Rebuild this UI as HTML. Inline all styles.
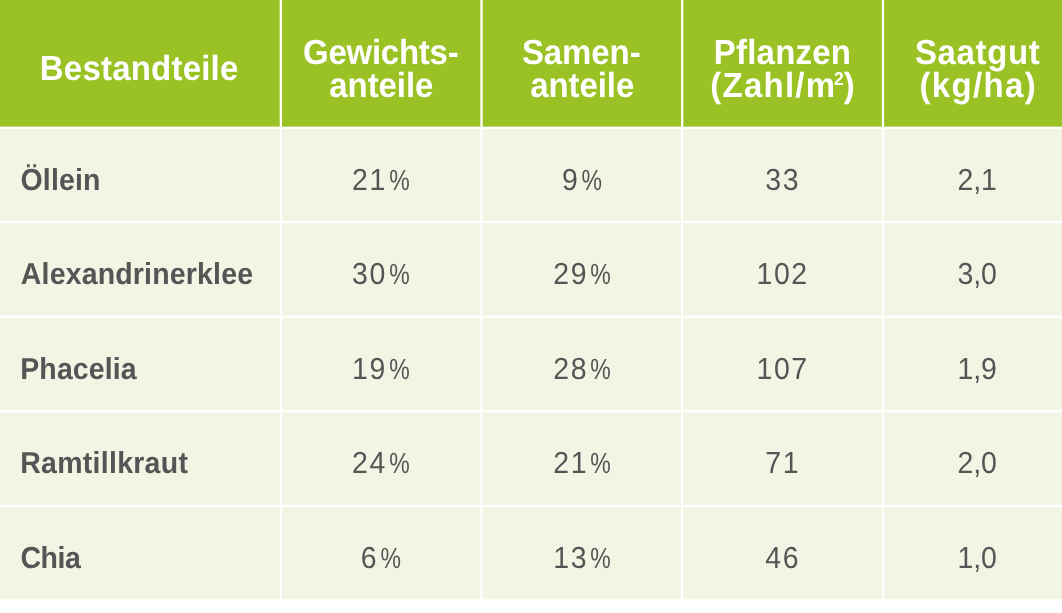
<!DOCTYPE html>
<html lang="de"><head><meta charset="utf-8"><title>Tabelle</title>
<style>
html,body{margin:0;padding:0;background:#fff;}
body{width:1062px;height:613px;overflow:hidden;position:relative;filter:contrast(1);font-family:"Liberation Sans",sans-serif;}
.c{position:absolute;overflow:visible;}
.bgh{position:absolute;left:0;top:0;width:1062px;height:128px;background:#9bc224;}
.bgb{position:absolute;left:0;top:128px;width:1062px;height:473px;background:#f1f5e4;}
svg.g{position:absolute;left:0;top:0;}
.c span{position:absolute;left:0;top:0;white-space:nowrap;transform-origin:0 0;text-rendering:geometricPrecision;}
.h{color:#fff;font-weight:bold;font-size:34.9px;line-height:38.9px;}
.l{color:#555555;font-weight:bold;font-size:30.3px;line-height:34.3px;}
.v{color:#555555;font-size:30.5px;line-height:34.5px;}
.pc{color:#555555;font-size:29.2px;line-height:33.2px;}
sup{font-size:18.5px;vertical-align:baseline;position:relative;top:-12.2px;line-height:0;letter-spacing:0;margin-left:-2.4px;}
i.b{display:inline-block;width:0;height:0;}
</style></head><body>
<div class="bgh"></div><div class="bgb"></div>
<svg class="g" width="1062" height="613" viewBox="0 0 1062 613" fill="#fff"><rect x="279.70" y="0" width="2.3" height="599.15"/><rect x="480.35" y="0" width="2.3" height="599.15"/><rect x="681.05" y="0" width="2.3" height="599.15"/><rect x="881.80" y="0" width="2.3" height="599.15"/><rect x="0" y="126.65" width="1062" height="2.3"/><rect x="0" y="221.15" width="1062" height="2.3"/><rect x="0" y="315.65" width="1062" height="2.3"/><rect x="0" y="410.15" width="1062" height="2.3"/><rect x="0" y="504.65" width="1062" height="2.3"/><rect x="0" y="599.15" width="1062" height="13.85"/></svg>
<div class="c hc" style="left:0.00px;top:0.00px;width:279.70px;height:126.65px"><span class="h" style="transform:translate(39.82px,50.00px) scaleX(0.9450);letter-spacing:0.233px;">Bestandteile</span></div>
<div class="c hc" style="left:282.00px;top:0.00px;width:198.35px;height:126.65px"><span class="h" style="transform:translate(21.06px,33.60px) scaleX(0.9450);letter-spacing:-0.260px;">Gewichts-</span><span class="h" style="transform:translate(47.30px,66.60px) scaleX(0.9450);letter-spacing:-0.077px;">anteile</span></div>
<div class="c hc" style="left:482.65px;top:0.00px;width:198.40px;height:126.65px"><span class="h" style="transform:translate(38.95px,33.60px) scaleX(0.9450);letter-spacing:-0.086px;">Samen-</span><span class="h" style="transform:translate(47.27px,66.60px) scaleX(0.9450);letter-spacing:-0.084px;">anteile</span></div>
<div class="c hc" style="left:683.35px;top:0.00px;width:198.45px;height:126.65px"><span class="h" style="transform:translate(30.72px,33.60px) scaleX(0.9450);letter-spacing:0.257px;">Pflanzen</span><span class="h" style="transform:translate(27.31px,66.60px) scaleX(0.9450);letter-spacing:1.328px;">(Zahl/m<sup>2</sup>)</span></div>
<div class="c hc" style="left:884.10px;top:0.00px;width:177.90px;height:126.65px"><span class="h" style="transform:translate(30.98px,33.60px) scaleX(0.9450);letter-spacing:0.672px;">Saatgut</span><span class="h" style="transform:translate(35.43px,66.60px) scaleX(0.9450);letter-spacing:1.464px;">(kg/ha)</span></div>
<div class="c bc" style="left:0.00px;top:128.95px;width:279.70px;height:92.20px"><span class="l" style="transform:translate(20.58px,34.86px) scaleX(0.9400);letter-spacing:0.134px;">Öllein</span></div>
<div class="c bc" style="left:282.00px;top:128.95px;width:198.35px;height:92.20px"><span class="v" style="transform:translate(70.10px,33.86px) scaleX(0.9340);letter-spacing:1.670px;">21</span> <span class="pc" style="transform:translate(107.20px,35.77px) scaleX(0.7900);">%</span></div>
<div class="c bc" style="left:482.65px;top:128.95px;width:198.40px;height:92.20px"><span class="v" style="transform:translate(78.95px,33.86px) scaleX(0.9340);">9</span> <span class="pc" style="transform:translate(98.45px,35.77px) scaleX(0.7900);">%</span></div>
<div class="c bc" style="left:683.35px;top:128.95px;width:198.45px;height:92.20px"><span class="v" style="transform:translate(82.25px,33.86px) scaleX(0.9340);letter-spacing:1.670px;">33</span></div>
<div class="c bc" style="left:884.10px;top:128.95px;width:177.90px;height:92.20px"><span class="v" style="transform:translate(73.50px,33.86px) scaleX(0.9340);letter-spacing:-0.150px;">2,1</span></div>
<div class="c bc" style="left:0.00px;top:223.45px;width:279.70px;height:92.20px"><span class="l" style="transform:translate(20.79px,34.87px) scaleX(0.9400);letter-spacing:0.193px;">Alexandrinerklee</span></div>
<div class="c bc" style="left:282.00px;top:223.45px;width:198.35px;height:92.20px"><span class="v" style="transform:translate(70.10px,33.87px) scaleX(0.9340);letter-spacing:1.670px;">30</span> <span class="pc" style="transform:translate(107.20px,35.76px) scaleX(0.7900);">%</span></div>
<div class="c bc" style="left:482.65px;top:223.45px;width:198.40px;height:92.20px"><span class="v" style="transform:translate(70.25px,33.87px) scaleX(0.9340);letter-spacing:1.670px;">29</span> <span class="pc" style="transform:translate(107.15px,35.76px) scaleX(0.7900);">%</span></div>
<div class="c bc" style="left:683.35px;top:223.45px;width:198.45px;height:92.20px"><span class="v" style="transform:translate(73.55px,33.87px) scaleX(0.9340);letter-spacing:1.670px;">102</span></div>
<div class="c bc" style="left:884.10px;top:223.45px;width:177.90px;height:92.20px"><span class="v" style="transform:translate(73.50px,33.87px) scaleX(0.9340);letter-spacing:-0.150px;">3,0</span></div>
<div class="c bc" style="left:0.00px;top:317.95px;width:279.70px;height:92.20px"><span class="l" style="transform:translate(20.27px,34.87px) scaleX(0.9400);letter-spacing:0.116px;">Phacelia</span></div>
<div class="c bc" style="left:282.00px;top:317.95px;width:198.35px;height:92.20px"><span class="v" style="transform:translate(70.10px,33.87px) scaleX(0.9340);letter-spacing:1.670px;">19</span> <span class="pc" style="transform:translate(107.20px,35.76px) scaleX(0.7900);">%</span></div>
<div class="c bc" style="left:482.65px;top:317.95px;width:198.40px;height:92.20px"><span class="v" style="transform:translate(70.25px,33.87px) scaleX(0.9340);letter-spacing:1.670px;">28</span> <span class="pc" style="transform:translate(107.15px,35.76px) scaleX(0.7900);">%</span></div>
<div class="c bc" style="left:683.35px;top:317.95px;width:198.45px;height:92.20px"><span class="v" style="transform:translate(73.55px,33.87px) scaleX(0.9340);letter-spacing:1.670px;">107</span></div>
<div class="c bc" style="left:884.10px;top:317.95px;width:177.90px;height:92.20px"><span class="v" style="transform:translate(73.50px,33.87px) scaleX(0.9340);letter-spacing:-0.150px;">1,9</span></div>
<div class="c bc" style="left:0.00px;top:412.45px;width:279.70px;height:92.20px"><span class="l" style="transform:translate(20.27px,34.87px) scaleX(0.9400);letter-spacing:0.291px;">Ramtillkraut</span></div>
<div class="c bc" style="left:282.00px;top:412.45px;width:198.35px;height:92.20px"><span class="v" style="transform:translate(70.10px,33.87px) scaleX(0.9340);letter-spacing:1.670px;">24</span> <span class="pc" style="transform:translate(107.20px,35.76px) scaleX(0.7900);">%</span></div>
<div class="c bc" style="left:482.65px;top:412.45px;width:198.40px;height:92.20px"><span class="v" style="transform:translate(70.25px,33.87px) scaleX(0.9340);letter-spacing:1.670px;">21</span> <span class="pc" style="transform:translate(107.15px,35.76px) scaleX(0.7900);">%</span></div>
<div class="c bc" style="left:683.35px;top:412.45px;width:198.45px;height:92.20px"><span class="v" style="transform:translate(82.25px,33.87px) scaleX(0.9340);letter-spacing:1.670px;">71</span></div>
<div class="c bc" style="left:884.10px;top:412.45px;width:177.90px;height:92.20px"><span class="v" style="transform:translate(73.50px,33.87px) scaleX(0.9340);letter-spacing:-0.150px;">2,0</span></div>
<div class="c bc" style="left:0.00px;top:506.95px;width:279.70px;height:92.20px"><span class="l" style="transform:translate(20.38px,34.87px) scaleX(0.9400);letter-spacing:-0.434px;">Chia</span></div>
<div class="c bc" style="left:282.00px;top:506.95px;width:198.35px;height:92.20px"><span class="v" style="transform:translate(78.80px,33.87px) scaleX(0.9340);">6</span> <span class="pc" style="transform:translate(98.50px,35.76px) scaleX(0.7900);">%</span></div>
<div class="c bc" style="left:482.65px;top:506.95px;width:198.40px;height:92.20px"><span class="v" style="transform:translate(70.25px,33.87px) scaleX(0.9340);letter-spacing:1.670px;">13</span> <span class="pc" style="transform:translate(107.15px,35.76px) scaleX(0.7900);">%</span></div>
<div class="c bc" style="left:683.35px;top:506.95px;width:198.45px;height:92.20px"><span class="v" style="transform:translate(82.25px,33.87px) scaleX(0.9340);letter-spacing:1.670px;">46</span></div>
<div class="c bc" style="left:884.10px;top:506.95px;width:177.90px;height:92.20px"><span class="v" style="transform:translate(73.50px,33.87px) scaleX(0.9340);letter-spacing:-0.150px;">1,0</span></div>
</body></html>
